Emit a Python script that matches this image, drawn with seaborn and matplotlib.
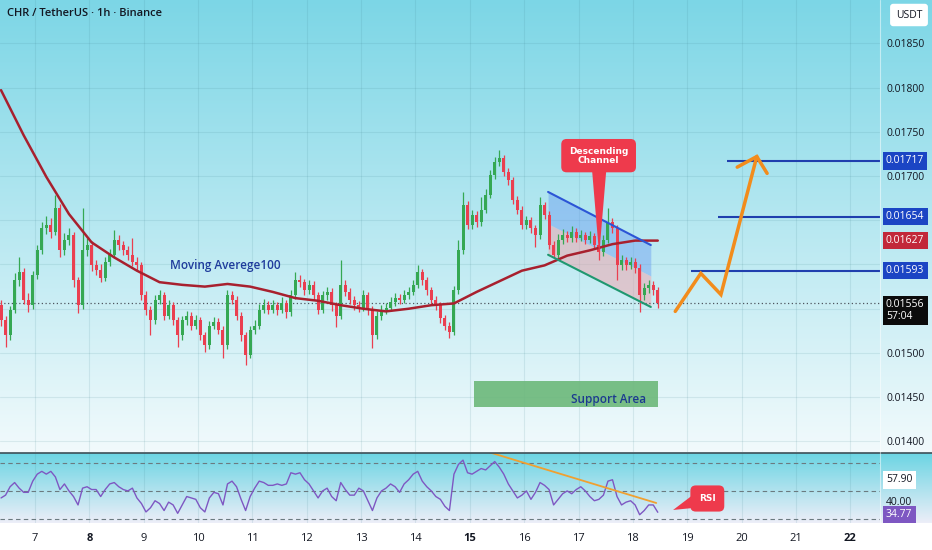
import numpy as np
import matplotlib
matplotlib.use("Agg")
import matplotlib.pyplot as plt
from matplotlib.patches import Polygon
import seaborn as sns

sns.set_theme(style="white")
plt.rcParams['font.family'] = ['Open Sans', 'DejaVu Sans']

# ---------------- data ----------------
title = "CHR / TetherUS · 1h · Binance"
start_day = 6.375            # first candle time (day of month)
step_days = 2 / 24           # 2-hour candles
first_open = 0.01554
closes = [
    0.01537, 0.01520, 0.01549, 0.01582, 0.01591, 0.01560, 0.01554, 0.01588, 0.01616, 0.01641,
    0.01645, 0.01637, 0.01664, 0.01616, 0.01628, 0.01633, 0.01582, 0.01554, 0.01616, 0.01622,
    0.01599, 0.01594, 0.01585, 0.01603, 0.01611, 0.01628, 0.01622, 0.01616, 0.01611, 0.01603,
    0.01599, 0.01565, 0.01549, 0.01537, 0.01560, 0.01565, 0.01542, 0.01554, 0.01537, 0.01520,
    0.01537, 0.01542, 0.01531, 0.01537, 0.01520, 0.01509, 0.01531, 0.01535, 0.01526, 0.01509,
    0.01565, 0.01560, 0.01542, 0.01520, 0.01498, 0.01526, 0.01531, 0.01549, 0.01554, 0.01549,
    0.01554, 0.01549, 0.01556, 0.01546, 0.01565, 0.01582, 0.01580, 0.01571, 0.01577, 0.01565,
    0.01549, 0.01565, 0.01569, 0.01554, 0.01542, 0.01577, 0.01569, 0.01560, 0.01554, 0.01551,
    0.01565, 0.01549, 0.01520, 0.01542, 0.01549, 0.01551, 0.01558, 0.01562, 0.01560, 0.01565,
    0.01569, 0.01577, 0.01591, 0.01582, 0.01571, 0.01560, 0.01554, 0.01539, 0.01531, 0.01524,
    0.01571, 0.01616, 0.01667, 0.01645, 0.01656, 0.01648, 0.01662, 0.01679, 0.01701, 0.01716,
    0.01720, 0.01705, 0.01695, 0.01673, 0.01662, 0.01645, 0.01650, 0.01641, 0.01633, 0.01667,
    0.01656, 0.01622, 0.01611, 0.01628, 0.01633, 0.01630, 0.01637, 0.01630, 0.01633, 0.01628,
    0.01632, 0.01622, 0.01614, 0.01628, 0.01648, 0.01641, 0.01599, 0.01605, 0.01599, 0.01603,
    0.01596, 0.01565, 0.01573, 0.01577, 0.01571, 0.01556]
highs = [
    0.01560, 0.01542, 0.01553, 0.01590, 0.01608, 0.01596, 0.01568, 0.01593, 0.01622, 0.01648,
    0.01655, 0.01652, 0.01679, 0.01668, 0.01636, 0.01641, 0.01637, 0.01586, 0.01664, 0.01630,
    0.01626, 0.01605, 0.01600, 0.01608, 0.01617, 0.01639, 0.01633, 0.01627, 0.01621, 0.01630,
    0.01608, 0.01603, 0.01570, 0.01553, 0.01566, 0.01571, 0.01569, 0.01560, 0.01558, 0.01541,
    0.01542, 0.01548, 0.01546, 0.01543, 0.01541, 0.01524, 0.01536, 0.01541, 0.01539, 0.01530,
    0.01571, 0.01570, 0.01564, 0.01546, 0.01524, 0.01531, 0.01537, 0.01555, 0.01561, 0.01559,
    0.01560, 0.01558, 0.01563, 0.01560, 0.01571, 0.01591, 0.01588, 0.01584, 0.01582, 0.01581,
    0.01569, 0.01570, 0.01575, 0.01573, 0.01558, 0.01605, 0.01582, 0.01573, 0.01564, 0.01559,
    0.01571, 0.01569, 0.01553, 0.01547, 0.01554, 0.01557, 0.01563, 0.01568, 0.01567, 0.01571,
    0.01575, 0.01583, 0.01599, 0.01595, 0.01586, 0.01575, 0.01564, 0.01558, 0.01543, 0.01535,
    0.01576, 0.01628, 0.01682, 0.01672, 0.01662, 0.01661, 0.01676, 0.01685, 0.01707, 0.01722,
    0.01729, 0.01724, 0.01709, 0.01699, 0.01677, 0.01666, 0.01655, 0.01654, 0.01645, 0.01676,
    0.01671, 0.01660, 0.01626, 0.01634, 0.01640, 0.01638, 0.01643, 0.01641, 0.01639, 0.01637,
    0.01638, 0.01636, 0.01626, 0.01633, 0.01664, 0.01653, 0.01645, 0.01611, 0.01609, 0.01609,
    0.01607, 0.01600, 0.01579, 0.01583, 0.01581, 0.01575]
lows = [
    0.01530, 0.01507, 0.01515, 0.01545, 0.01576, 0.01555, 0.01546, 0.01550, 0.01584, 0.01612,
    0.01634, 0.01630, 0.01633, 0.01608, 0.01611, 0.01622, 0.01575, 0.01545, 0.01550, 0.01610,
    0.01593, 0.01588, 0.01580, 0.01581, 0.01598, 0.01607, 0.01616, 0.01611, 0.01605, 0.01598,
    0.01593, 0.01560, 0.01543, 0.01520, 0.01533, 0.01555, 0.01537, 0.01538, 0.01532, 0.01507,
    0.01515, 0.01532, 0.01526, 0.01527, 0.01515, 0.01501, 0.01505, 0.01527, 0.01521, 0.01494,
    0.01505, 0.01555, 0.01537, 0.01514, 0.01486, 0.01494, 0.01521, 0.01527, 0.01545, 0.01544,
    0.01545, 0.01543, 0.01545, 0.01539, 0.01542, 0.01561, 0.01575, 0.01566, 0.01567, 0.01560,
    0.01544, 0.01545, 0.01560, 0.01548, 0.01529, 0.01538, 0.01564, 0.01555, 0.01549, 0.01546,
    0.01547, 0.01543, 0.01506, 0.01516, 0.01537, 0.01544, 0.01547, 0.01553, 0.01555, 0.01556,
    0.01561, 0.01565, 0.01573, 0.01577, 0.01566, 0.01555, 0.01549, 0.01534, 0.01526, 0.01517,
    0.01520, 0.01567, 0.01612, 0.01640, 0.01640, 0.01642, 0.01644, 0.01658, 0.01675, 0.01697,
    0.01711, 0.01700, 0.01690, 0.01668, 0.01657, 0.01640, 0.01640, 0.01636, 0.01620, 0.01629,
    0.01651, 0.01617, 0.01607, 0.01607, 0.01623, 0.01625, 0.01625, 0.01625, 0.01626, 0.01623,
    0.01624, 0.01617, 0.01605, 0.01610, 0.01624, 0.01636, 0.01582, 0.01594, 0.01594, 0.01595,
    0.01590, 0.01546, 0.01560, 0.01568, 0.01566, 0.01551]
# 100-period moving average, read every 5th candle
ma_step = 5
ma_values = [0.01797, 0.01746, 0.01699, 0.01657, 0.01625, 0.01608, 0.01593, 0.01580, 0.01577, 0.01575,
             0.01578, 0.01575, 0.01569, 0.01562, 0.01559, 0.01554, 0.01550, 0.01547, 0.01550, 0.01554,
             0.01556, 0.01569, 0.01581, 0.01593, 0.01599, 0.01610, 0.01616, 0.01623, 0.01627, 0.01627]
rsi_values = [45, 47, 53, 56, 52, 49, 49, 57, 62, 64,
              62, 64, 60, 51, 55, 50, 46, 40, 52, 53,
              51, 51, 46, 51, 55, 56, 53, 51, 50, 52,
              45, 41, 35, 38, 43, 41, 36, 42, 40, 34,
              40, 46, 45, 44, 38, 35, 45, 49, 48, 40,
              55, 57, 53, 44, 36, 46, 52, 57, 56, 54,
              54, 55, 54, 55, 63, 62, 63, 58, 55, 50,
              45, 50, 52, 46, 43, 56, 51, 47, 47, 52,
              50, 43, 36, 45, 50, 52, 55, 53, 49, 55,
              58, 62, 64, 57, 53, 50, 46, 44, 39, 36,
              62, 69, 72, 63, 62, 64, 66, 65, 68, 71,
              67, 62, 55, 50, 45, 47, 50, 44, 49, 56,
              54, 51, 40, 44, 48, 50, 48, 51, 53, 50,
              46, 43, 44, 47, 57, 58, 46, 40, 42, 43,
              40, 33, 36, 40, 40, 34.77]
day_ticks = list(range(7, 23))
bold_days = [8, 15, 22]
price_ticks = [0.0140, 0.0145, 0.0150, 0.0155, 0.0160, 0.0165, 0.0170, 0.0175, 0.0180, 0.0185]
hidden_price_ticks = [0.0155, 0.0160, 0.0165]   # covered by the price tags in the reference
rsi_levels = [30, 50, 70]

# drawings
target_levels = [0.01717, 0.01654, 0.01593]
target_starts = [19.73, 19.57, 19.07]
ma_label = 0.01627
rsi_labels = [57.90, 40.00]
rsi_last = 34.77
channel_days = [16.44, 18.33]
channel_top = [0.01682, 0.01622]
channel_mid = [0.01646, 0.01587]
channel_bot = [0.01611, 0.01552]
support_days = [15.08, 18.46]
support_prices = [0.01439, 0.01468]
path_days = [18.78, 19.25, 19.62, 20.28]
path_prices = [0.01547, 0.01590, 0.01566, 0.01722]
head_days = [19.92, 20.28, 20.47]
head_prices = [0.01710, 0.01722, 0.01703]
rsi_trend_days = [15.37, 18.43]
rsi_trend_vals = [77.5, 41.4]

# ---------------- figure ----------------
W_PX, H_PX = 932, 550
fig = plt.figure(figsize=(W_PX / 100, H_PX / 100), dpi=100)

# background gradient
img = np.ones((H_PX, 2, 3))
def grad(r0, r1, c0, c1):
    f = np.linspace(0, 1, r1 - r0)[:, None]
    img[r0:r1, :, :] = (((1 - f) * np.array(c0) + f * np.array(c1)) / 255.0)[:, None, :]
grad(0, 453, (124, 214, 230), (242, 250, 252))
grad(453, 523, (108, 213, 227), (236, 238, 248))
bg = fig.add_axes([0, 0, 1, 1])
bg.imshow(img, aspect='auto', extent=[0, 1, 0, 1], interpolation='bilinear')
bg.axis('off')
bg.set_zorder(-5)

pane_right = 880 / W_PX
ax = fig.add_axes([0, 1 - 452 / H_PX, pane_right, 452 / H_PX])
ax2 = fig.add_axes([0, 1 - 523 / H_PX, pane_right, 70 / H_PX], sharex=ax)
for a in (ax, ax2):
    a.patch.set_visible(False)
    for s in a.spines.values():
        s.set_visible(False)

xlim = (6.356, 22.547)
ax.set_xlim(*xlim)
ax.set_ylim(0.013881, 0.018989)
ax2.set_ylim(27.1, 77.1)

grid_kw = dict(color='#3d7f8c', alpha=0.13, lw=0.8)
ax.set_xticks(day_ticks)
ax.set_yticks(price_ticks)
ax.set_yticklabels(['' if any(abs(p - h) < 1e-9 for h in hidden_price_ticks) else f'{p:.5f}'
                    for p in price_ticks])
ax.grid(True, **grid_kw)
ax.yaxis.tick_right()
ax.tick_params(axis='y', length=0, pad=5, labelsize=7.5, labelcolor='#131722')
ax.tick_params(axis='x', length=0, labelbottom=False)

ax2.set_yticks([])
ax2.grid(True, axis='x', **grid_kw)
ax2.set_xticks(day_ticks)
ax2.set_xticklabels([str(d) for d in day_ticks])
ax2.tick_params(axis='x', length=0, pad=7, labelsize=8, labelcolor='#131722')
for lab, d in zip(ax2.get_xticklabels(), day_ticks):
    if d in bold_days:
        lab.set_fontweight('bold')

# candles
n = len(closes)
t = start_day + step_days * np.arange(n)
opens = np.array([first_open] + closes[:-1])
c = np.array(closes)
up = c >= opens
cols = np.where(up, '#35a853', '#ea3f50')
ax.vlines(t, lows, highs, colors=cols, lw=0.9, zorder=3)
body = np.maximum(np.abs(c - opens), 0.000008)
ax.bar(t, body, bottom=np.minimum(c, opens), width=0.055, color=cols, lw=0, zorder=3)

# moving average
sns.lineplot(x=t[::ma_step], y=ma_values, ax=ax, color='#a8202e', lw=1.8, zorder=4)
ax.text(10.51, 0.01599, 'Moving Averege100', fontsize=8.5, color='#1f3c9c',
        fontweight='semibold', ha='center', va='center', zorder=6)

# last price dotted line
ax.axhline(closes[-1], color='#4e5660', lw=0.9, ls=(0, (1, 2)), zorder=2)

# descending channel
ax.fill_between(channel_days, channel_mid, channel_top, color='#6a9cf0', alpha=0.45, lw=0, zorder=1)
ax.fill_between(channel_days, channel_bot, channel_mid, color='#f2a2aa', alpha=0.5, lw=0, zorder=1)
ax.plot(channel_days, channel_top, color='#2c55d6', lw=1.5, zorder=4)
ax.plot(channel_days, channel_bot, color='#1f9870', lw=1.5, zorder=4)

# support area
ax.fill_between(support_days, support_prices[0], support_prices[1], color='#6cb87a', alpha=0.9, lw=0, zorder=2)
ax.text(17.56, 0.01447, 'Support Area', fontsize=8.5, color='#1c3a8f', fontweight='semibold',
        ha='center', va='center', zorder=6)

# target levels
ax.hlines(target_levels, target_starts, xlim[1], color='#1f3fae', lw=1.5, zorder=4)

# orange projected path
ax.plot(path_days, path_prices, color='#f28c1c', lw=2.5, zorder=5, solid_joinstyle='miter')
ax.plot(head_days, head_prices, color='#f28c1c', lw=2.5, zorder=5, solid_joinstyle='miter')

# callout: Descending Channel
red = '#ee3a4c'
ax.add_patch(Polygon([[17.25, 0.01706], [17.51, 0.01706], [17.38, 0.01611]], closed=True,
                     fc=red, ec='none', zorder=7))
ax.text(17.37, 0.01723, 'Descending\nChannel', fontsize=6.5, color='white', fontweight='bold',
        family=['Liberation Sans Narrow', 'DejaVu Sans'], ha='center', va='center', linespacing=1.0,
        bbox=dict(boxstyle='round,pad=0.85,rounding_size=0.6', fc=red, ec='none'), zorder=8)

# RSI pane
sns.lineplot(x=t, y=rsi_values, ax=ax2, color='#7e57c2', lw=1.0, zorder=4)
for lv in rsi_levels:
    ax2.axhline(lv, color='#6b7a80', lw=0.8, ls=(0, (4, 3)), zorder=2)
ax2.plot(rsi_trend_days, rsi_trend_vals, color='#f0a030', lw=1.3, zorder=5)
ax2.add_patch(Polygon([[19.15, 48.5], [19.15, 38.0], [18.74, 36.4]], closed=True,
                      fc=red, ec='none', zorder=7))
ax2.text(19.37, 44.6, 'RSI', fontsize=6.5, color='white', fontweight='bold',
         family=['Liberation Sans Narrow', 'DejaVu Sans'], ha='center', va='center',
         bbox=dict(boxstyle='round,pad=0.95,rounding_size=0.6', fc=red, ec='none'), zorder=8)
ax.set_xlabel(''); ax.set_ylabel(''); ax2.set_xlabel(''); ax2.set_ylabel('')

# right-side price labels
def right_label(a, yval, text, fc, tc, dy=0):
    a.annotate(text, xy=(1, yval), xycoords=('axes fraction', 'data'), xytext=(6, dy),
               textcoords='offset pixels', ha='left', va='center', fontsize=7.5, color=tc,
               linespacing=1.15,
               bbox=dict(boxstyle='square,pad=0.3', fc=fc, ec='none') if fc else None,
               annotation_clip=False, zorder=20)

for lv in target_levels:
    right_label(ax, lv, f'{lv:.5f}', '#1b45c4', 'white')
right_label(ax, ma_label, f'{ma_label:.5f}', '#c2283a', 'white')
right_label(ax, closes[-1], f'{closes[-1]:.5f}\n57:04', '#0b0b0b', 'white', dy=-7)
right_label(ax2, rsi_labels[0], f'{rsi_labels[0]:.2f}', 'white', '#131722')
right_label(ax2, rsi_labels[1], f'{rsi_labels[1]:.2f}', None, '#131722', dy=2)
right_label(ax2, rsi_last, f'{rsi_last:.2f}', '#7e57c2', 'white', dy=-2)

# USDT box and title
fig.text(909 / W_PX, 1 - 15 / H_PX, 'USDT', fontsize=7.5, color='#131722', ha='center', va='center',
         bbox=dict(boxstyle='round,pad=0.55,rounding_size=0.3', fc='white', ec='none'), zorder=20)
fig.text(7 / W_PX, 1 - 14 / H_PX, title, fontsize=8, color='#131722', fontweight='semibold',
         ha='left', va='center')

# separators
fig.add_artist(plt.Line2D([0, 1], [1 - 452.5 / H_PX] * 2, transform=fig.transFigure,
                          color='#3d4f57', lw=1.2))
fig.add_artist(plt.Line2D([pane_right] * 2, [1 - 523 / H_PX, 1], transform=fig.transFigure,
                          color='white', lw=0.8, alpha=0.5))

fig.savefig('out.png', dpi=100)
